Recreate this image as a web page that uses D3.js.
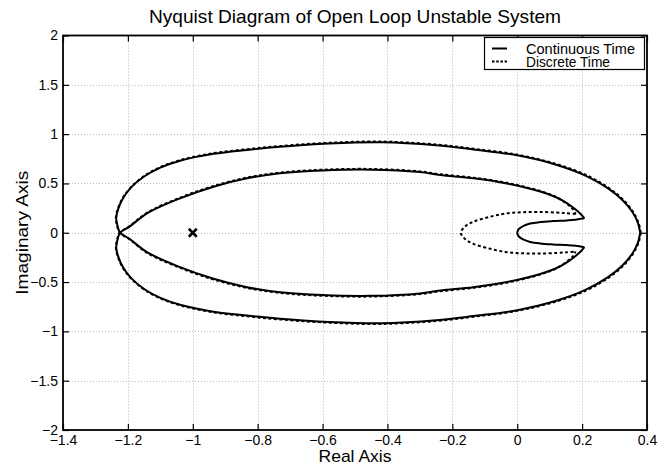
<!DOCTYPE html>
<html>
<head>
<meta charset="utf-8">
<script src="https://cdn.jsdelivr.net/npm/d3@7"></script>
<style>
  body { margin: 0; background: #fff; }
  text { font-family: "Liberation Sans", Arial, Helvetica, sans-serif; fill: #000; }
</style>
</head>
<body>
<svg id="chart" width="671" height="465"></svg>
<script>
// ---- Text and ticks ----
const titleText = "Nyquist Diagram of Open Loop Unstable System";
const xLabelText = "Real Axis";
const yLabelText = "Imaginary Axis";
const xTicks = [-1.4, -1.2, -1, -0.8, -0.6, -0.4, -0.2, 0, 0.2, 0.4];
const yTicks = [-2, -1.5, -1, -0.5, 0, 0.5, 1, 1.5, 2];
const seriesNames = ["Continuous Time", "Discrete Time"];
const criticalPoint = [-1, 0];

// ---- Continuous-time response, [real, imag] ----
const contOuterUpper = [[0.379,0],[0.372,0.10],[0.355,0.21],[0.325,0.33],[0.28,0.45],[0.21,0.58],[0.12,0.69],[0,0.785],[-0.135,0.845],[-0.25,0.888],[-0.42,0.918],[-0.58,0.905],[-0.731,0.872],[-0.833,0.84],[-0.936,0.80],[-1.039,0.73],[-1.10,0.66],[-1.15,0.57],[-1.19,0.46],[-1.215,0.35],[-1.23,0.24],[-1.236,0.15],[-1.232,0.07],[-1.224,0]];
const contInnerLower = [[-1.224,0],[-1.195,-0.062],[-1.141,-0.197],[-1.039,-0.349],[-0.936,-0.467],[-0.833,-0.552],[-0.731,-0.603],[-0.6,-0.632],[-0.45,-0.64],[-0.3,-0.615],[-0.237,-0.586],[-0.135,-0.552],[-0.032,-0.50],[0.071,-0.418],[0.12,-0.36],[0.153,-0.30],[0.18,-0.235],[0.197,-0.185],[0.207,-0.146]];
const contOuterLower = [[0.379,0],[0.372,-0.10],[0.355,-0.21],[0.325,-0.33],[0.28,-0.45],[0.21,-0.58],[0.12,-0.69],[0,-0.785],[-0.135,-0.845],[-0.25,-0.888],[-0.42,-0.918],[-0.58,-0.905],[-0.731,-0.872],[-0.833,-0.84],[-0.936,-0.80],[-1.039,-0.73],[-1.10,-0.66],[-1.15,-0.57],[-1.19,-0.46],[-1.215,-0.35],[-1.23,-0.24],[-1.236,-0.15],[-1.232,-0.07],[-1.224,0]];
const contInnerUpper = [[-1.224,0],[-1.195,0.062],[-1.141,0.197],[-1.039,0.349],[-0.936,0.467],[-0.833,0.552],[-0.731,0.603],[-0.6,0.632],[-0.45,0.64],[-0.3,0.615],[-0.237,0.586],[-0.135,0.552],[-0.032,0.50],[0.071,0.418],[0.12,0.36],[0.153,0.30],[0.18,0.235],[0.197,0.185],[0.207,0.146]];
const contHook = [[0.207,0.146],[0.18,0.132],[0.153,0.125],[0.11,0.118],[0.07,0.108],[0.04,0.093],[0.018,0.068],[0.005,0.038],[0,0],[0.005,-0.038],[0.018,-0.068],[0.04,-0.093],[0.07,-0.108],[0.11,-0.118],[0.153,-0.125],[0.18,-0.132],[0.207,-0.146]];

// ---- Discrete-time response, [real, imag] ----
const discOuterUpper = [[0.381,0],[0.374,0.10],[0.357,0.212],[0.327,0.333],[0.282,0.455],[0.212,0.586],[0.12,0.697],[0,0.792],[-0.135,0.852],[-0.25,0.895],[-0.42,0.925],[-0.58,0.912],[-0.731,0.879],[-0.833,0.847],[-0.936,0.807],[-1.039,0.736],[-1.10,0.665],[-1.15,0.575],[-1.19,0.464],[-1.216,0.353],[-1.231,0.242],[-1.237,0.151],[-1.233,0.07],[-1.225,0]];
const discInnerLower = [[-1.225,0],[-1.195,-0.066],[-1.141,-0.203],[-1.039,-0.356],[-0.936,-0.474],[-0.833,-0.559],[-0.731,-0.61],[-0.6,-0.639],[-0.45,-0.647],[-0.3,-0.622],[-0.237,-0.593],[-0.135,-0.558],[-0.032,-0.506],[0.071,-0.423],[0.12,-0.362],[0.15,-0.30],[0.17,-0.245],[0.18,-0.19]];
const discOuterLower = [[0.381,0],[0.374,-0.10],[0.357,-0.212],[0.327,-0.333],[0.282,-0.455],[0.212,-0.586],[0.12,-0.697],[0,-0.792],[-0.135,-0.852],[-0.25,-0.895],[-0.42,-0.925],[-0.58,-0.912],[-0.731,-0.879],[-0.833,-0.847],[-0.936,-0.807],[-1.039,-0.736],[-1.10,-0.665],[-1.15,-0.575],[-1.19,-0.464],[-1.216,-0.353],[-1.231,-0.242],[-1.237,-0.151],[-1.233,-0.07],[-1.225,0]];
const discInnerUpper = [[-1.225,0],[-1.195,0.066],[-1.141,0.203],[-1.039,0.356],[-0.936,0.474],[-0.833,0.559],[-0.731,0.61],[-0.6,0.639],[-0.45,0.647],[-0.3,0.622],[-0.237,0.593],[-0.135,0.558],[-0.032,0.506],[0.071,0.423],[0.12,0.362],[0.15,0.30],[0.17,0.245],[0.18,0.19]];
const discHook = [[0.18,0.19],[0.15,0.199],[0.122,0.205],[0.071,0.211],[0.02,0.209],[-0.032,0.197],[-0.083,0.163],[-0.135,0.112],[-0.16,0.065],[-0.174,0],[-0.16,-0.065],[-0.135,-0.112],[-0.083,-0.163],[-0.032,-0.197],[0.02,-0.209],[0.071,-0.211],[0.122,-0.205],[0.15,-0.199],[0.18,-0.19]];

// ---- Layout ----
const W = 671, H = 465;
const margin = { top: 35.5, right: 24, bottom: 35, left: 63 };
const svg = d3.select("#chart");
const x = d3.scaleLinear().domain([-1.4, 0.4]).range([margin.left, W - margin.right]);
const y = d3.scaleLinear().domain([-2, 2]).range([H - margin.bottom, margin.top]);
const fmt = d3.format("~g");

// grid lines
const grid = svg.append("g").attr("stroke", "#b8b8b8").attr("stroke-width", 1).attr("stroke-dasharray", "1,2");
grid.selectAll(".gx").data(xTicks.slice(1, -1)).join("line")
  .attr("x1", d => Math.round(x(d)) + 0.5).attr("x2", d => Math.round(x(d)) + 0.5)
  .attr("y1", y(2)).attr("y2", y(-2));
grid.selectAll(".gy").data(yTicks.slice(1, -1)).join("line")
  .attr("y1", d => Math.round(y(d)) + 0.5).attr("y2", d => Math.round(y(d)) + 0.5)
  .attr("x1", x(-1.4)).attr("x2", x(0.4));

// axes with inward ticks on all four sides
function styleAxis(g) {
  g.select(".domain").remove();
  g.selectAll(".tick line").attr("stroke", "#000").attr("stroke-width", 1.2);
  g.selectAll(".tick text").attr("font-size", 14).attr("fill", "#000")
    .attr("font-family", "'Liberation Sans', Arial, sans-serif");
}
svg.append("g").attr("transform", `translate(0,${y(-2)})`)
  .call(d3.axisBottom(x).tickValues(xTicks).tickSize(-6).tickPadding(5).tickFormat(fmt)).call(styleAxis);
svg.append("g").attr("transform", `translate(0,${y(2)})`)
  .call(d3.axisTop(x).tickValues(xTicks).tickSize(-6).tickFormat("")).call(styleAxis);
svg.append("g").attr("transform", `translate(${x(-1.4)},0)`)
  .call(d3.axisLeft(y).tickValues(yTicks).tickSize(-6).tickPadding(5).tickFormat(fmt)).call(styleAxis);
svg.append("g").attr("transform", `translate(${x(0.4)},0)`)
  .call(d3.axisRight(y).tickValues(yTicks).tickSize(-6).tickFormat("")).call(styleAxis);

// curves
const line = d3.line().x(d => x(d[0])).y(d => y(d[1])).curve(d3.curveCatmullRom.alpha(0.5));
const contPaths = [contOuterUpper.concat(contInnerLower.slice(1)), contOuterLower.concat(contInnerUpper.slice(1)), contHook];
const discPaths = [discOuterUpper.concat(discInnerLower.slice(1)), discOuterLower.concat(discInnerUpper.slice(1)), discHook];
const plot = svg.append("g");
plot.selectAll(".cont").data(contPaths).join("path")
  .attr("d", line).attr("fill", "none").attr("stroke", "#000").attr("stroke-width", 2);
plot.selectAll(".disc").data(discPaths).join("path")
  .attr("d", line).attr("fill", "none").attr("stroke", "#000").attr("stroke-width", 2)
  .attr("stroke-dasharray", "3,2.5");

// critical point marker
const cx = x(criticalPoint[0]), cy = y(criticalPoint[1]), s = 4;
plot.append("path").attr("d", `M${cx - s},${cy - s}L${cx + s},${cy + s}M${cx - s},${cy + s}L${cx + s},${cy - s}`)
  .attr("stroke", "#000").attr("stroke-width", 2.5).attr("fill", "none");

// plot frame
svg.append("rect").attr("x", x(-1.4)).attr("y", y(2)).attr("width", x(0.4) - x(-1.4)).attr("height", y(-2) - y(2))
  .attr("fill", "none").attr("stroke", "#000").attr("stroke-width", 1.8);

// titles
const midX = (x(-1.4) + x(0.4)) / 2;
svg.append("text").attr("x", midX).attr("y", 23).attr("text-anchor", "middle")
  .attr("font-size", 19).attr("textLength", 412).attr("lengthAdjust", "spacingAndGlyphs").text(titleText);
svg.append("text").attr("x", midX).attr("y", 462).attr("text-anchor", "middle")
  .attr("font-size", 17).attr("textLength", 73).attr("lengthAdjust", "spacingAndGlyphs").text(xLabelText);
svg.append("text").attr("transform", `translate(28,${(y(2) + y(-2)) / 2}) rotate(-90)`).attr("text-anchor", "middle")
  .attr("font-size", 17).attr("textLength", 124).attr("lengthAdjust", "spacingAndGlyphs").text(yLabelText);

// legend
const lg = svg.append("g");
lg.append("rect").attr("x", 484.5).attr("y", 37.5).attr("width", 160).attr("height", 32)
  .attr("fill", "#fff").attr("stroke", "#000").attr("stroke-width", 1.2);
seriesNames.forEach((name, i) => {
  const ly = 48.5 + i * 13;
  lg.append("line").attr("x1", 492).attr("x2", 507).attr("y1", ly).attr("y2", ly)
    .attr("stroke", "#000").attr("stroke-width", 2).attr("stroke-dasharray", i ? "2.5,1.7" : null);
  lg.append("text").attr("x", 526).attr("y", ly + 5).attr("font-size", 14)
    .attr("textLength", i ? 84 : 109).attr("lengthAdjust", "spacingAndGlyphs").text(name);
});
</script>
</body>
</html>
